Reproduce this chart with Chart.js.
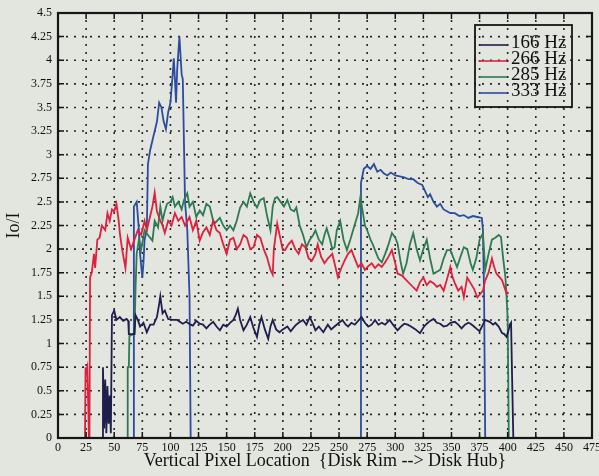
<!DOCTYPE html>
<html>
<head>
<meta charset="utf-8">
<script src="https://cdn.jsdelivr.net/npm/chart.js@4.4.0/dist/chart.umd.min.js"></script>
<style>
  html, body { margin: 0; padding: 0; background: #e3e5df; }
</style>
</head>
<body>
<canvas id="myChart" width="599" height="476"></canvas>
<script>
var seriesLabels = ["166 Hz", "266 Hz", "285 Hz", "333 Hz"];
var seriesColors = ["#1f1d4c", "#e0203c", "#2f7a52", "#2c4c9e"];

// 166 Hz
var x166 = [0, 39.5, 40, 41, 42, 43, 44, 45, 46, 47, 48, 50, 52, 55, 58, 61, 62.5, 63, 68, 69, 71, 73, 76, 79, 82, 85, 88, 90, 91, 93, 95, 98, 102, 106, 111, 114, 118, 120, 123, 126, 129, 132, 135, 138, 141, 144, 147, 150, 153, 156, 158, 160, 162, 165, 168, 171, 174, 177, 179, 181, 184, 187, 189, 191, 194, 197, 200, 204, 207, 211, 214, 218, 221, 224, 227, 229, 232, 236, 240, 243, 246, 250, 253, 256, 258, 261, 264, 267, 270, 273, 276, 279, 282, 285, 288, 291, 295, 298, 302, 305, 308, 311, 314, 318, 322, 325, 328, 331, 334, 337, 340, 343, 346, 349, 353, 356, 359, 362, 365, 367, 370, 373, 375, 378, 380, 384, 387, 389, 392, 395, 397, 399, 401, 402, 403, 404, 405];
var y166 = [0, 0, 0.75, 0.1, 0.62, 0.05, 0.55, 0.15, 0.45, 0.05, 1.3, 1.35, 1.25, 1.28, 1.24, 1.26, 1.24, 1.1, 1.1, 1.3, 1.25, 1.18, 1.22, 1.12, 1.2, 1.2, 1.28, 1.42, 1.5, 1.32, 1.35, 1.26, 1.25, 1.25, 1.21, 1.23, 1.2, 1.19, 1.24, 1.21, 1.2, 1.16, 1.2, 1.23, 1.18, 1.14, 1.2, 1.18, 1.22, 1.25, 1.3, 1.37, 1.25, 1.14, 1.2, 1.28, 1.16, 1.07, 1.2, 1.28, 1.15, 1.05, 1.18, 1.25, 1.15, 1.12, 1.15, 1.18, 1.13, 1.19, 1.22, 1.25, 1.2, 1.28, 1.2, 1.14, 1.18, 1.12, 1.2, 1.15, 1.18, 1.22, 1.25, 1.2, 1.18, 1.22, 1.2, 1.24, 1.28, 1.22, 1.18, 1.2, 1.25, 1.2, 1.22, 1.2, 1.25, 1.2, 1.14, 1.18, 1.21, 1.2, 1.18, 1.15, 1.11, 1.17, 1.21, 1.24, 1.26, 1.22, 1.21, 1.18, 1.19, 1.22, 1.23, 1.2, 1.16, 1.2, 1.22, 1.21, 1.18, 1.15, 1.13, 1.2, 1.25, 1.23, 1.2, 1.22, 1.18, 1.11, 1.1, 1.07, 1.15, 1.2, 1.22, 0.6, 0];

// 266 Hz
var x266 = [0, 24, 24.5, 25, 26, 27, 27.5, 28, 28.5, 30, 32, 33, 35, 37, 39, 42, 44, 46, 48, 50, 52, 54, 55, 57, 60, 62, 65, 68, 71, 74, 77, 79, 82, 84, 86, 88, 91, 93, 95, 98, 101, 104, 107, 110, 113, 117, 120, 123, 126, 129, 132, 135, 138, 141, 144, 147, 150, 153, 156, 159, 162, 165, 168, 171, 174, 177, 180, 183, 186, 189, 191, 192, 195, 198, 200, 202, 205, 208, 211, 214, 217, 220, 223, 226, 229, 231, 234, 237, 240, 244, 247, 249, 252, 255, 258, 261, 264, 267, 270, 273, 276, 279, 282, 285, 288, 291, 294, 297, 300, 302, 306, 310, 314, 319, 322, 325, 328, 331, 334, 337, 340, 343, 346, 349, 351, 353, 356, 359, 361, 364, 367, 370, 373, 376, 378, 380, 383, 386, 388, 390, 393, 395, 397, 399, 400];
var y266 = [0, 0, 0.75, 0.7, 0.75, 0.3, 0, 0, 1.7, 1.75, 1.95, 1.8, 2.1, 2.12, 2.25, 2.2, 2.38, 2.3, 2.42, 2.4, 2.48, 2.3, 2.17, 2.0, 1.8, 2.12, 2.0, 2.1, 2.2, 2.15, 2.3, 2.2, 2.35, 2.45, 2.6, 2.4, 2.3, 2.25, 2.17, 2.3, 2.25, 2.38, 2.3, 2.34, 2.25, 2.34, 2.2, 2.3, 2.09, 2.18, 2.23, 2.15, 2.3, 2.2, 2.17, 2.05, 1.95, 2.1, 2.12, 2.0, 2.05, 2.15, 2.12, 2.0, 2.02, 2.15, 2.12, 2.0, 1.91, 1.78, 1.73, 2.0, 2.27, 2.1, 1.99, 1.99, 2.05, 2.09, 2.0, 1.95, 2.05, 2.02, 1.9, 1.88, 1.95, 2.05, 1.92, 1.85, 1.9, 1.95, 1.8, 1.7, 1.8, 1.88, 1.95, 1.99, 1.9, 1.81, 1.85, 1.78, 1.82, 1.85, 1.8, 1.84, 1.81, 1.86, 1.92, 1.99, 1.85, 1.74, 1.72, 1.67, 1.62, 1.56, 1.65, 1.7, 1.62, 1.66, 1.64, 1.6, 1.62, 1.56, 1.68, 1.81, 1.7, 1.64, 1.56, 1.6, 1.49, 1.7, 1.64, 1.58, 1.49, 1.53, 1.56, 1.67, 1.75, 1.9, 1.81, 1.74, 1.7, 1.67, 1.6, 1.53, 1.55];

// 285 Hz
var x285 = [0, 61.5, 62, 63, 63.5, 67, 68, 69, 70, 72, 74, 77, 80, 84, 86, 89, 91, 93, 95, 97, 100, 102, 104, 107, 110, 112, 115, 117, 120, 123, 126, 129, 132, 135, 138, 140, 144, 147, 150, 153, 156, 159, 162, 165, 168, 171, 174, 177, 180, 183, 186, 189, 191, 193, 195, 198, 201, 204, 207, 210, 212, 215, 218, 221, 224, 227, 229, 232, 235, 237, 239, 242, 244, 246, 248, 251, 254, 257, 260, 263, 265, 267, 269, 271, 273, 275, 278, 280, 282, 285, 288, 291, 294, 297, 300, 302, 305, 307, 310, 313, 316, 319, 322, 325, 328, 331, 334, 337, 340, 343, 346, 349, 352, 355, 358, 361, 364, 367, 369, 372, 375, 378, 380, 383, 386, 389, 392, 394, 396, 398, 399, 400, 401];
var y285 = [0, 0, 0.75, 0.75, 1.08, 1.1, 1.1, 1.6, 1.95, 2.1, 2.0, 2.2, 2.15, 2.09, 2.3, 2.23, 2.45, 2.3, 2.4, 2.48, 2.5, 2.55, 2.45, 2.5, 2.42, 2.52, 2.59, 2.45, 2.5, 2.34, 2.41, 2.36, 2.48, 2.45, 2.3, 2.28, 2.33, 2.25, 2.2, 2.25, 2.2, 2.3, 2.44, 2.5, 2.45, 2.59, 2.5, 2.44, 2.52, 2.54, 2.35, 2.2, 2.45, 2.54, 2.55, 2.5, 2.45, 2.52, 2.42, 2.4, 2.44, 2.25, 2.15, 2.02, 2.1, 2.15, 2.2, 2.1, 2.05, 2.15, 2.22, 2.1, 2.0, 2.02, 2.2, 2.3, 2.1, 1.99, 2.1, 2.22, 2.3, 2.38, 2.55, 2.4, 2.25, 2.2, 2.1, 2.05, 1.99, 1.9, 1.86, 1.95, 2.05, 2.17, 2.12, 2.06, 1.85, 1.74, 1.85, 2.05, 2.17, 2.0, 1.88, 2.0, 2.1, 1.9, 1.74, 1.76, 1.78, 1.9, 1.99, 1.99, 1.9, 1.81, 1.92, 2.02, 2.0, 1.85, 1.78, 1.9, 2.1, 2.17, 1.78, 1.95, 2.1, 2.12, 2.15, 2.13, 1.9, 1.7, 1.5, 1.25, 0];

// 333 Hz
var x333 = [0, 67, 67.5, 70, 72, 73, 75, 76, 77, 79, 80, 82, 85, 88, 90, 92, 94, 96, 98, 100, 102, 103, 104, 105, 106, 108, 110, 111, 113, 115, 117, 118, 269, 269.5, 272, 275, 278, 281, 284, 287, 290, 293, 296, 300, 304, 308, 312, 316, 320, 324, 327, 329, 331, 334, 337, 340, 343, 346, 349, 353, 357, 361, 365, 369, 373, 377, 378, 379, 380];
var y333 = [0, 0, 2.45, 2.5, 2.2, 1.95, 1.7, 1.85, 2.1, 2.2, 2.9, 3.05, 3.2, 3.35, 3.55, 3.5, 3.35, 3.27, 3.45, 3.55, 3.85, 4.02, 3.8, 3.55, 3.9, 4.25, 3.85, 3.8, 2.5, 2.2, 1.5, 0, 0, 2.7, 2.85, 2.88, 2.85, 2.9, 2.82, 2.84, 2.8, 2.78, 2.81, 2.78, 2.77, 2.76, 2.74, 2.74, 2.7, 2.68, 2.6, 2.55, 2.58, 2.5, 2.45, 2.48, 2.42, 2.4, 2.38, 2.38, 2.35, 2.36, 2.33, 2.35, 2.34, 2.33, 2.2, 1.5, 0];

var xMax = 475, xStep = 25;
var yMax = 4.5, yStep = 0.25;

function pts(xs, ys) {
    var out = [];
    for (var j = 0; j < xs.length; j++) out.push({x: xs[j], y: ys[j]});
    return out;
}

var allX = [x166, x266, x285, x333];
var allY = [y166, y266, y285, y333];
var datasets = [];
for (var n = 0; n < 4; n++) {
    datasets.push({
        label: seriesLabels[n],
        data: pts(allX[n], allY[n]),
        borderColor: seriesColors[n],
        borderWidth: 1.8,
        pointRadius: 0,
        fill: false,
        tension: 0
    });
}

var serif = "'Liberation Serif', 'DejaVu Serif', serif";

function tickPixels(chart) {
    var sx = chart.scales.x, sy = chart.scales.y;
    var xt = [], yt = [];
    for (var v = 0; v <= xMax + 0.001; v += xStep) xt.push(sx.getPixelForValue(v));
    for (var k = 0; k * yStep <= yMax + 0.001; k++) yt.push(sy.getPixelForValue(k * yStep));
    return {x: xt, y: yt};
}

var frame = {
    id: "frame",
    beforeDraw: function(chart) {
        var ctx = chart.ctx;
        ctx.save();
        ctx.fillStyle = "#e3e5df";
        ctx.fillRect(0, 0, chart.width, chart.height);
        ctx.restore();
    },
    beforeDatasetsDraw: function(chart) {
        // dotted grid
        var ctx = chart.ctx, a = chart.chartArea, t = tickPixels(chart);
        ctx.save();
        ctx.strokeStyle = "#262626";
        ctx.lineWidth = 1.6;
        ctx.setLineDash([2, 6]);
        ctx.beginPath();
        t.x.forEach(function(p) { ctx.moveTo(p, a.bottom); ctx.lineTo(p, a.top); });
        t.y.forEach(function(p) { ctx.moveTo(a.left, p); ctx.lineTo(a.right, p); });
        ctx.stroke();
        ctx.restore();
    },
    afterDraw: function(chart) {
        var ctx = chart.ctx, a = chart.chartArea, t = tickPixels(chart);
        ctx.save();
        ctx.strokeStyle = "#161616";
        ctx.lineWidth = 1.5;
        ctx.beginPath();
        t.x.forEach(function(p) {
            ctx.moveTo(p, a.top); ctx.lineTo(p, a.top + 6);
            ctx.moveTo(p, a.bottom); ctx.lineTo(p, a.bottom - 6);
        });
        t.y.forEach(function(p) {
            ctx.moveTo(a.left, p); ctx.lineTo(a.left + 6, p);
            ctx.moveTo(a.right, p); ctx.lineTo(a.right - 6, p);
        });
        ctx.stroke();
        ctx.lineWidth = 2.2;
        ctx.strokeRect(a.left, a.top, a.right - a.left, a.bottom - a.top);

        // legend box, top right inside the plot
        var lx = a.right - 117, ly = a.top + 12, lw = 97, lh = 82;
        ctx.lineWidth = 1.8;
        ctx.strokeRect(lx, ly, lw, lh);
        ctx.font = "19px " + serif;
        ctx.textBaseline = "middle";
        ctx.fillStyle = "#111";
        for (var i = 0; i < seriesLabels.length; i++) {
            var yy = ly + 18 + i * 16;
            ctx.strokeStyle = seriesColors[i];
            ctx.lineWidth = 1.6;
            ctx.beginPath();
            ctx.moveTo(lx + 4, yy + 2);
            ctx.lineTo(lx + 32, yy + 2);
            ctx.stroke();
            ctx.fillText(seriesLabels[i], lx + 36, yy);
        }
        ctx.restore();
    }
};

var chart = new Chart("myChart", {
    type: "line",
    data: { datasets: datasets },
    options: {
        responsive: false,
        animation: false,
        devicePixelRatio: 1,
        layout: { padding: { top: 13, right: 7, left: 0, bottom: 0 } },
        plugins: {
            legend: { display: false },
            tooltip: { enabled: false }
        },
        scales: {
            x: {
                type: "linear",
                min: 0, max: xMax,
                afterFit: function(s) { s.height = 38; s.paddingLeft = 0; s.paddingRight = 0; },
                ticks: {
                    stepSize: xStep,
                    autoSkip: false,
                    maxRotation: 0,
                    padding: 3,
                    color: "#111",
                    font: { family: serif, size: 12 }
                },
                grid: { display: false, drawTicks: false },
                border: { display: false },
                title: {
                    display: true,
                    text: "Vertical Pixel Location  {Disk Rim --> Disk Hub}",
                    color: "#111",
                    font: { family: serif, size: 18 },
                    padding: { top: 0, bottom: 4 }
                }
            },
            y: {
                min: 0, max: yMax,
                afterFit: function(s) { s.width = 58; s.paddingTop = 0; s.paddingBottom = 0; },
                ticks: {
                    stepSize: yStep,
                    autoSkip: false,
                    padding: 6,
                    color: "#111",
                    font: { family: serif, size: 12 },
                    callback: function(v) { return String(v); }
                },
                grid: { display: false, drawTicks: false },
                border: { display: false },
                title: {
                    display: true,
                    text: "Io/I",
                    color: "#111",
                    font: { family: serif, size: 18 },
                    padding: { top: 3, bottom: 0 }
                }
            }
        }
    },
    plugins: [frame]
});
</script>
</body>
</html>
